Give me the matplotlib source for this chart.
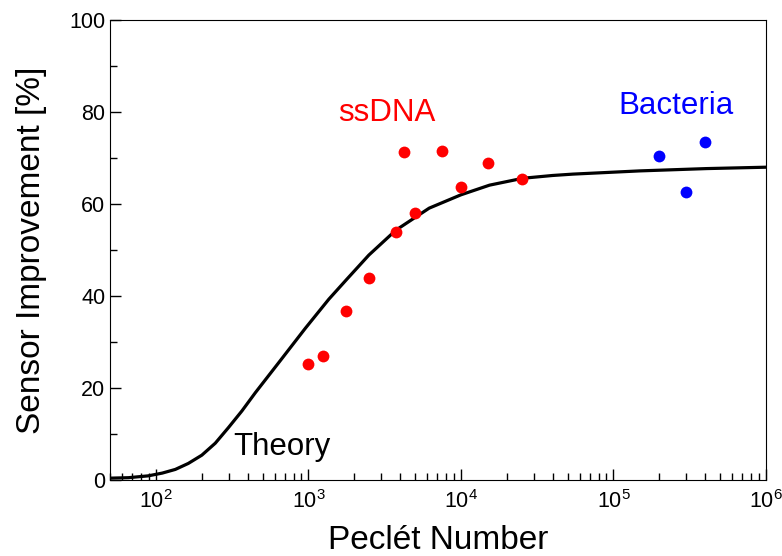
import numpy as np
from matplotlib import pyplot as plt

plt.rcParams['font.family'] = ['Liberation Sans', 'DejaVu Sans']
plt.rcParams['mathtext.default'] = 'regular'

# theory curve
theory_pe = [50, 66, 89, 110, 134, 163, 200, 245, 299, 366, 449, 638, 955,
             1360, 1780, 2490, 3740, 6190, 10000, 15400, 25500, 39800,
             54300, 149000, 407000, 1000000]
theory_imp = [0.4, 0.5, 0.9, 1.5, 2.3, 3.6, 5.4, 8.0, 11.4, 15.0, 19.0, 25.5, 33.0,
              39.3, 43.6, 48.9, 54.3, 59.1, 62.0, 64.1, 65.6, 66.2,
              66.5, 67.2, 67.7, 68.0]

# ssDNA measurements
dna_pe = [1000, 1250, 1750, 2500, 3740, 4990, 4250, 7460, 10000, 15000, 25000]
dna_imp = [25.2, 26.9, 36.8, 44.0, 54.0, 58.0, 71.4, 71.6, 63.6, 69.0, 65.5]

# bacteria measurements
bac_pe = [200000, 400000, 300000]
bac_imp = [70.4, 73.5, 62.6]

fig = plt.figure(figsize=(7.82, 5.56), dpi=100)
ax = fig.add_axes([0.1407, 0.1367, 0.8388, 0.8273])

ax.plot(theory_pe, theory_imp, color='black', lw=2.3, zorder=2)
ax.plot(dna_pe, dna_imp, 'o', color='#ff0000', ms=8.5, mec='none', zorder=3)
ax.plot(bac_pe, bac_imp, 'o', color='#0000ff', ms=8.5, mec='none', zorder=3)

ax.set_xscale('log')
ax.set_xlim(50, 1e6)
ax.set_ylim(0, 100)
ax.set_yticks([0, 20, 40, 60, 80, 100])
ax.set_yticks([10, 30, 50, 70, 90], minor=True)

ax.tick_params(which='both', direction='in', labelsize=15.5, top=False, right=False)
ax.tick_params(which='major', length=8, width=1)
ax.tick_params(which='minor', length=5, width=1)
ax.tick_params(axis='x', pad=7)

ax.set_xlabel('Peclét Number', fontsize=24, labelpad=9)
ax.set_ylabel('Sensor Improvement [%]', fontsize=24)
ax.yaxis.set_label_coords(-0.096, 0.5)

ax.text(3280, 79.8, 'ssDNA', color='#ff0000', fontsize=22.5, ha='center', va='center')
ax.text(257000, 81.3, 'Bacteria', color='#0000ff', fontsize=22.5, ha='center', va='center')
ax.text(668, 7.2, 'Theory', color='black', fontsize=22.5, ha='center', va='center')

fig.savefig('out.png', dpi=100)
